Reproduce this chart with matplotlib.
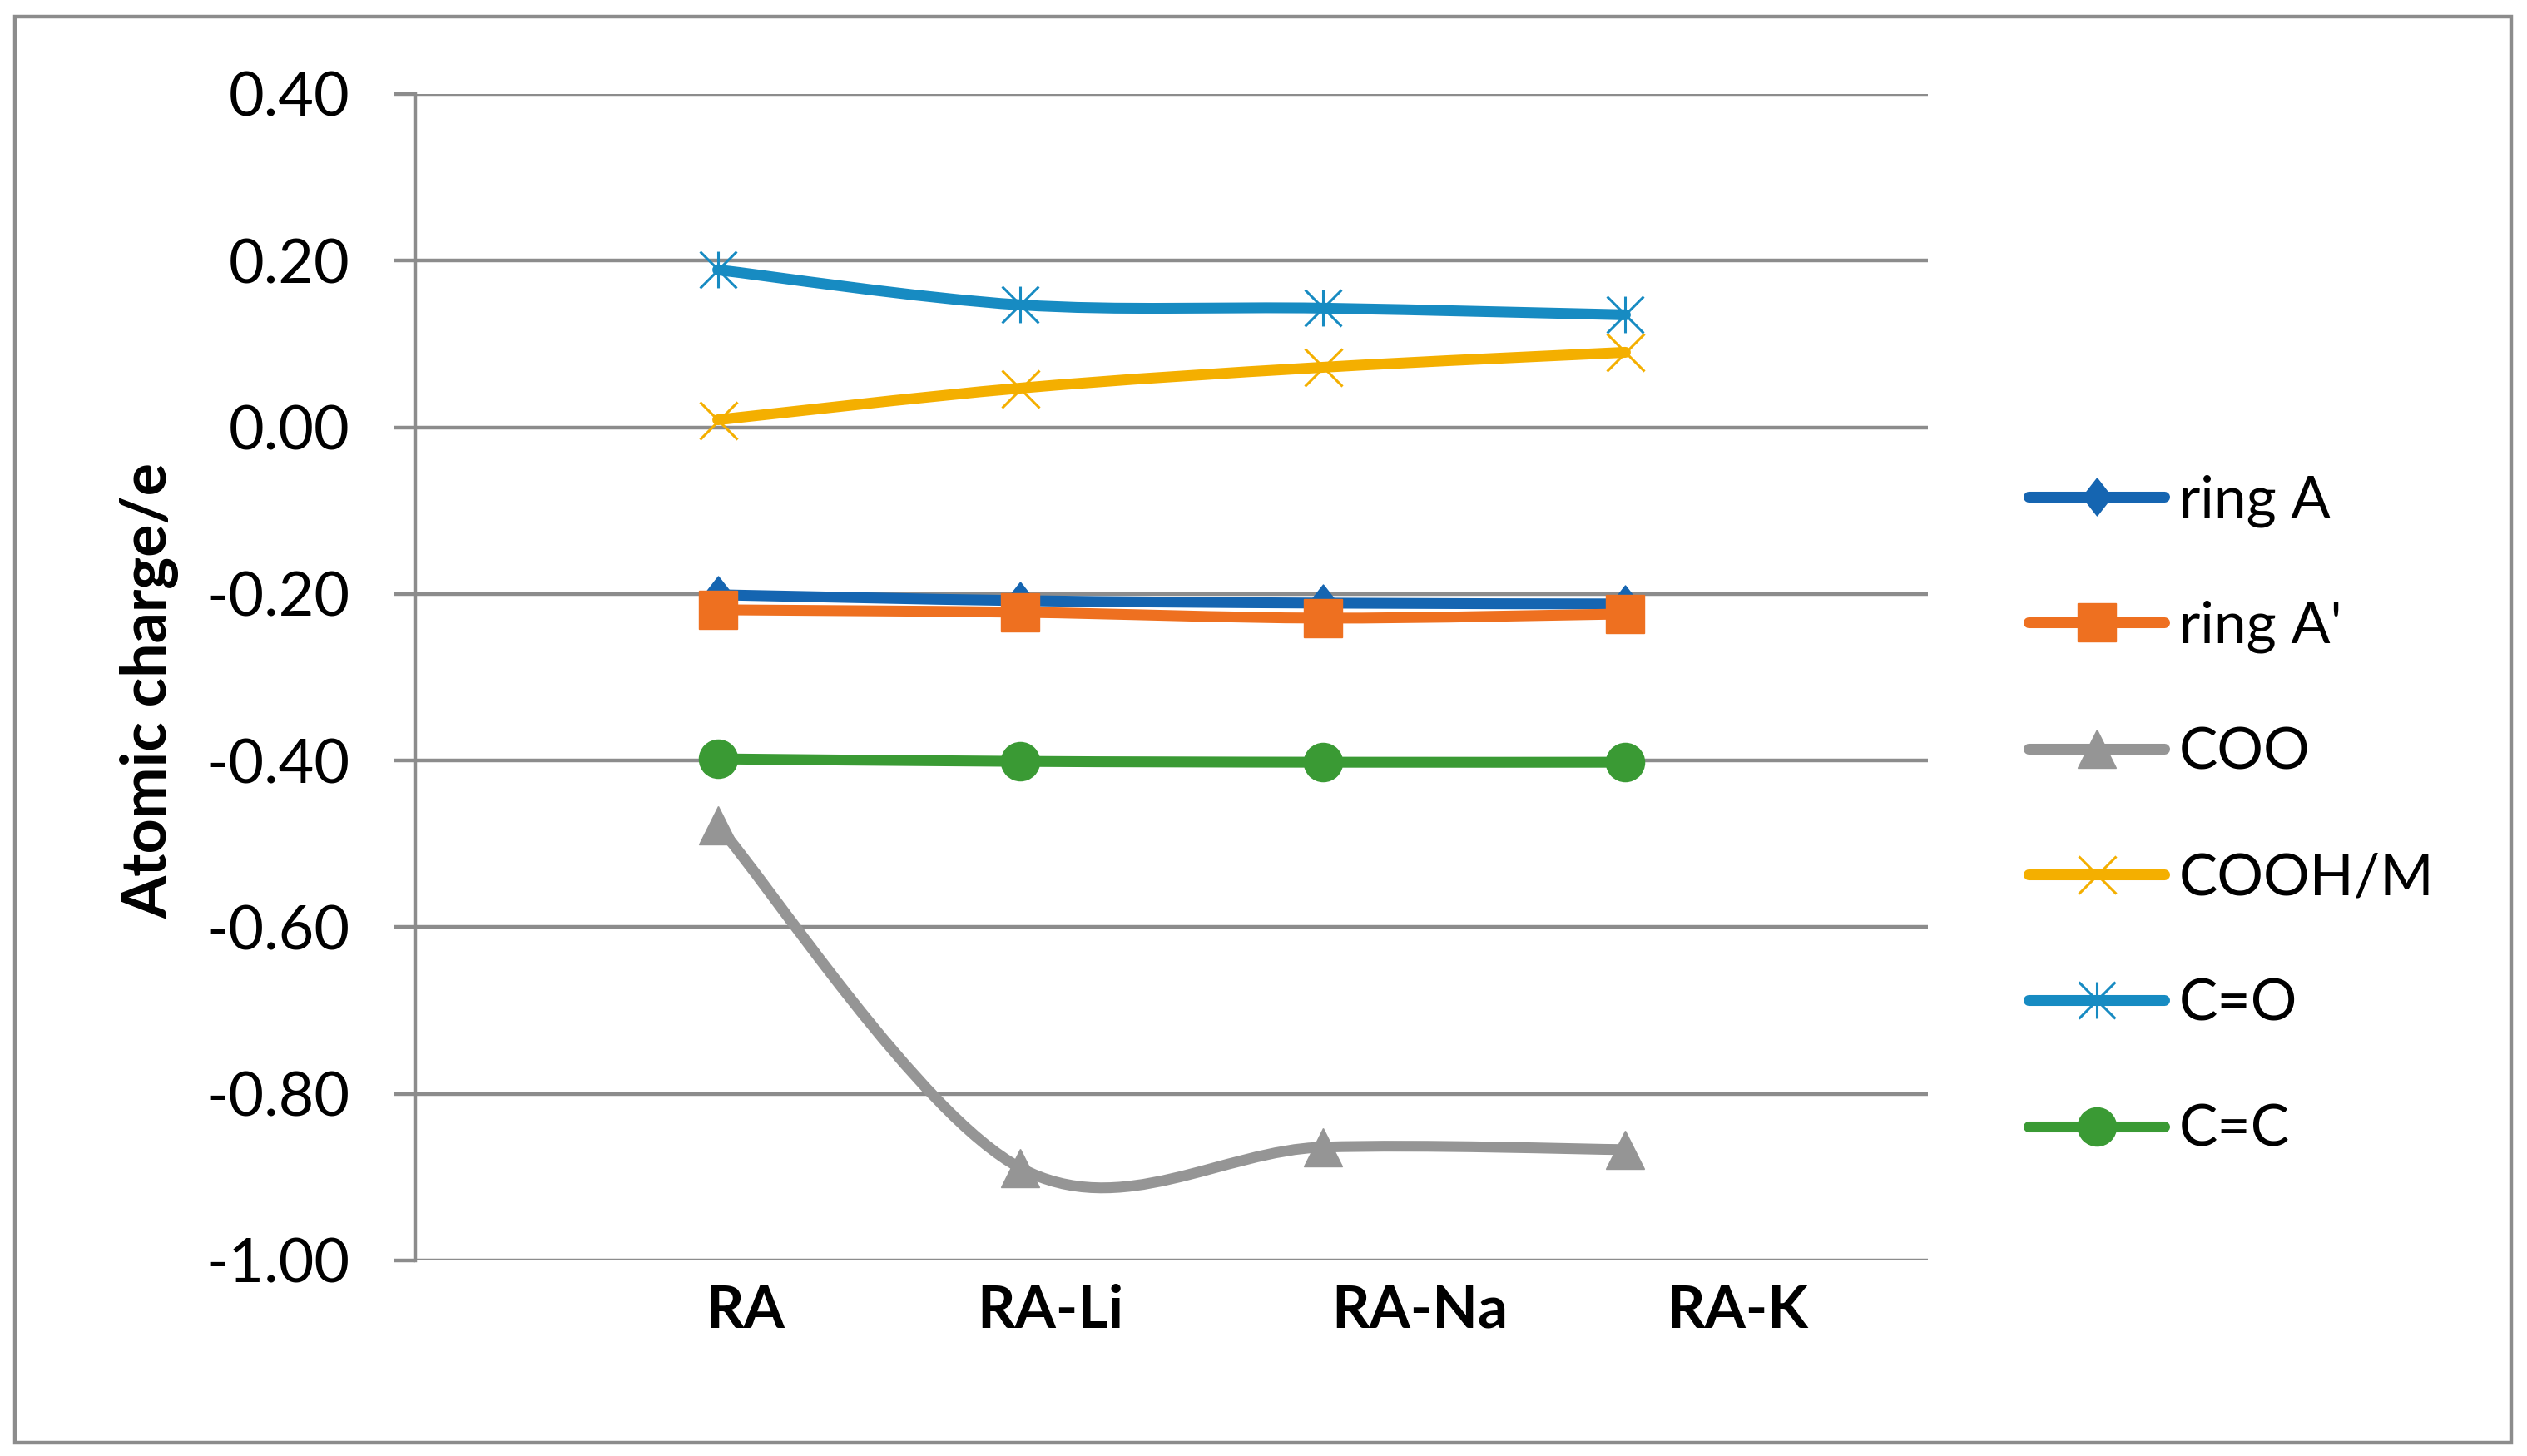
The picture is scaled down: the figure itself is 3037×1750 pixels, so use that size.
import numpy as np
import matplotlib
matplotlib.use("Agg")
import matplotlib.pyplot as plt
from matplotlib.path import Path
from matplotlib.patches import PathPatch, Rectangle
from matplotlib.lines import Line2D

plt.rcParams['font.family'] = ['Lato', 'DejaVu Sans']
plt.rcParams['axes.unicode_minus'] = False

# data
x_pos = [1, 2, 3, 4]
categories = ['RA', 'RA-Li', 'RA-Na', 'RA-K']
label_pos = [1.09, 2.10, 3.32, 4.37]

ring_a = [-0.201, -0.208, -0.211, -0.212]
ring_a2 = [-0.219, -0.222, -0.229, -0.224]
coo = [-0.478, -0.889, -0.864, -0.867]
cooh_m = [0.009, 0.047, 0.072, 0.090]
c_o = [0.189, 0.147, 0.143, 0.135]
c_c = [-0.398, -0.401, -0.402, -0.402]

yticks = [-1.0, -0.8, -0.6, -0.4, -0.2, 0.0, 0.2, 0.4]

names = ['ring A', "ring A'", 'COO', 'COOH/M', 'C=O', 'C=C']
colors = ['#1565B1', '#EE7020', '#959595', '#F4AF00', '#178BC2', '#3A9A34']
GRID = '#8C8C8C'

# markers like excel's
diamond = Path([(0, 1), (0.78, 0), (0, -1), (-0.78, 0), (0, 1)],
               [Path.MOVETO, Path.LINETO, Path.LINETO, Path.LINETO, Path.CLOSEPOLY])
star = Path([(-1, -1), (1, 1), (-1, 1), (1, -1), (0, -1), (0, 1)],
            [Path.MOVETO, Path.LINETO, Path.MOVETO, Path.LINETO, Path.MOVETO, Path.LINETO])
markers = [diamond, 's', '^', 'x', star, 'o']
msizes = [16.2, 16.6, 16.6, 16.2, 15.8, 16.6]
open_marker = [False, False, False, True, True, False]


def smooth_path(xs, ys):
    # excel style smoothed line (catmull-rom bezier)
    pts = np.column_stack([xs, ys]).astype(float)
    n = len(pts)
    verts = [pts[0]]
    codes = [Path.MOVETO]
    for i in range(n - 1):
        p0 = pts[i - 1] if i > 0 else pts[i]
        p1 = pts[i]
        p2 = pts[i + 1]
        p3 = pts[i + 2] if i + 2 < n else pts[i + 1]
        verts += [p1 + (p2 - p0) / 6, p2 - (p3 - p1) / 6, p2]
        codes += [Path.CURVE4] * 3
    return Path(verts, codes)


W, H, DPI = 3037, 1750, 200
fig = plt.figure(figsize=(W / DPI, H / DPI), dpi=DPI)
ax = fig.add_axes([499 / W, 1 - 1515 / H, (2317 - 499) / W, (1515 - 113) / H])

# outer chart border
fig.patches.append(Rectangle((18 / W, 1 - 1734 / H), (3018 - 18) / W, (1734 - 20) / H,
                             transform=fig.transFigure, fill=False, ec=GRID, lw=1.6))

series = [ring_a, ring_a2, coo, cooh_m, c_o, c_c]
handles = []
for k, (vals, name, col, mk, ms, op) in enumerate(zip(series, names, colors, markers, msizes, open_marker)):
    ax.add_patch(PathPatch(smooth_path(x_pos, vals), fill=False, ec=col, lw=4.7,
                           capstyle='round', joinstyle='round', zorder=3 + 2 * k))
    mew = 1.1 if op else 0.5
    ax.plot(x_pos, vals, ls='none', marker=mk, ms=ms, color=col, mec=col, mew=mew,
            zorder=4 + 2 * k)
    handles.append(Line2D([], [], color=col, lw=4.7, solid_capstyle='round', marker=mk,
                          ms=ms, mec=col, mew=mew))

ax.set_xlim(0, 5)
ax.set_ylim(-1.0, 0.4)
ax.set_yticks(yticks, [f'{v:.2f}' for v in yticks])
ax.set_xticks(label_pos, categories, fontweight='bold')
ax.tick_params(axis='y', length=9.4, width=1.6, color=GRID, pad=19, labelsize=26.5)
ax.tick_params(axis='x', length=0, pad=10, labelsize=25.5)

ax.grid(axis='y', color=GRID, lw=1.6, zorder=1)
ax.set_axisbelow(True)
for s in ['top', 'right', 'bottom']:
    ax.spines[s].set_visible(False)
ax.spines['left'].set_color(GRID)
ax.spines['left'].set_linewidth(1.6)

fig.text(180 / W, 1 - 830 / H, 'Atomic charge/e', rotation=90, ha='center', va='center',
         fontweight='bold', fontsize=26.5)

fig.legend(handles, names, loc='center left', bbox_to_anchor=(2438 / W, 1 - 980 / H),
           frameon=False, borderpad=0, borderaxespad=0, handlelength=2.35,
           handletextpad=0.25, labelspacing=1.27, fontsize=25)

fig.savefig('out.png', dpi=DPI, facecolor='white')
